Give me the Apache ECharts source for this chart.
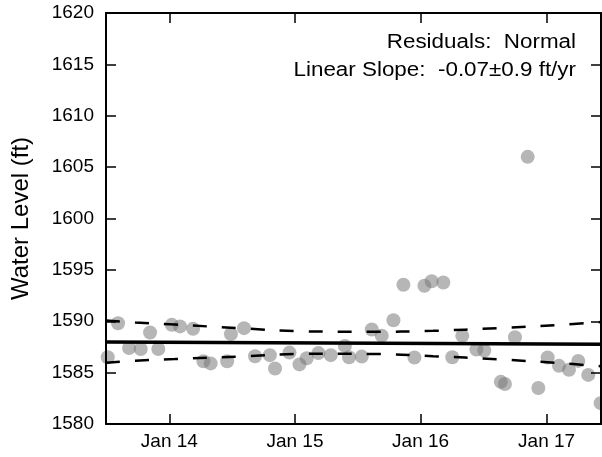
<!DOCTYPE html>
<html>
<head>
<meta charset="utf-8">
<script src="https://cdn.jsdelivr.net/npm/echarts@6/dist/echarts.min.js"></script>
<style>
html,body{margin:0;padding:0;background:#fff;}
#chart{width:602px;height:457px;}
</style>
</head>
<body>
<div id="chart"></div>
<script>
// ---- data ----
const dates = [
  '2013-07-06','2013-08-05','2013-09-06','2013-10-10','2013-11-06','2013-11-30',
  '2014-01-08','2014-02-01','2014-03-11','2014-04-10','2014-05-01','2014-06-18',
  '2014-06-29','2014-08-06','2014-09-07','2014-10-20','2014-11-04','2014-12-16',
  '2015-01-14','2015-02-04','2015-03-10','2015-04-15','2015-05-26','2015-06-07',
  '2015-07-14','2015-08-12','2015-09-10','2015-10-14','2015-11-12','2015-12-14',
  '2016-01-12','2016-02-02','2016-03-07','2016-04-02','2016-05-01','2016-06-11',
  '2016-07-04','2016-08-21','2016-09-02','2016-10-01','2016-11-07','2016-12-08',
  '2017-01-04','2017-02-06','2017-03-07','2017-04-03','2017-05-02','2017-06-07'
];
const levels = [
  1586.5, 1589.8, 1587.4, 1587.3, 1588.9, 1587.3,
  1589.65, 1589.5, 1589.26, 1586.1, 1585.9, 1586.1,
  1588.75, 1589.33, 1586.6, 1586.7, 1585.4, 1586.95,
  1585.8, 1586.4, 1586.9, 1586.7, 1587.6, 1586.5,
  1586.56, 1589.2, 1588.6, 1590.1, 1593.55, 1586.47,
  1593.45, 1593.9, 1593.77, 1586.5, 1588.58, 1587.25,
  1587.15, 1584.1, 1583.9, 1588.45, 1606.0, 1583.5,
  1586.47, 1585.66, 1585.27, 1586.14, 1584.78, 1582.03
];
const fitDates = ['2013-07-01', '2017-06-08'];
const fitLevels = [1587.98, 1587.77];
const bandDates = ['2013-07-01','2013-09-24','2014-01-17','2014-07-25','2015-01-30','2015-08-07','2016-02-06','2016-08-10','2017-02-09','2017-06-08'];
const upperLevels = [1590.08, 1589.87, 1589.68, 1589.32, 1589.02, 1588.97, 1589.07, 1589.33, 1589.65, 1589.92];
const lowerLevels = [1585.96, 1586.16, 1586.32, 1586.57, 1586.83, 1586.82, 1586.6, 1586.3, 1585.92, 1585.62];
const xTickDates = ['2014-01-01','2015-01-01','2016-01-01','2017-01-01'];
const xTickLabels = ['Jan 14','Jan 15','Jan 16','Jan 17'];
const xMin = '2013-07-01', xMax = '2017-06-08';
const yMin = 1580, yMax = 1620, yStep = 5;
const noteLines = ['Residuals:  Normal', 'Linear Slope:  -0.07\u00b10.9 ft/yr'];
const yName = 'Water Level (ft)';

// ---- build ----
const T = s => Date.parse(s);
const tickT = xTickDates.map(T);
const FONT = '"Liberation Sans", Arial, sans-serif';
const pair = (xs, ys) => xs.map((d, i) => [T(d), ys[i]]);

const axisLineStyle = {show: true, onZero: false, lineStyle: {color: '#000', width: 2}};
const tickStyle = {show: true, inside: true, length: 10, lineStyle: {color: '#000', width: 1.5}};

const chart = echarts.init(document.getElementById('chart'), null, {renderer: 'canvas'});
chart.setOption({
  animation: false,
  backgroundColor: '#fff',
  grid: {left: 106, right: 1, top: 13, bottom: 33, containLabel: false},
  xAxis: [
    {type: 'value', min: T(xMin), max: T(xMax), z: 10,
     axisLine: axisLineStyle,
     axisTick: Object.assign({customValues: tickT}, tickStyle),
     axisLabel: {customValues: tickT, formatter: v => { const i = tickT.indexOf(v); return i >= 0 ? xTickLabels[i] : ''; },
                 color: '#000', fontSize: 19, fontFamily: FONT, margin: 8},
     splitLine: {show: false}},
    {type: 'value', position: 'top', min: T(xMin), max: T(xMax), z: 10,
     axisLine: axisLineStyle,
     axisTick: Object.assign({customValues: tickT}, tickStyle),
     axisLabel: {show: false}, splitLine: {show: false}}
  ],
  yAxis: [
    {type: 'value', min: yMin, max: yMax, interval: yStep, z: 10,
     axisLine: axisLineStyle, axisTick: tickStyle,
     axisLabel: {color: '#000', fontSize: 19, fontFamily: FONT, margin: 12, formatter: v => String(v)},
     splitLine: {show: false},
     name: yName, nameLocation: 'middle', nameGap: 73, nameRotate: 90,
     nameTextStyle: {color: '#000', fontSize: 24, fontFamily: FONT}},
    {type: 'value', position: 'right', min: yMin, max: yMax, interval: yStep, z: 10,
     axisLine: axisLineStyle, axisTick: tickStyle,
     axisLabel: {show: false}, splitLine: {show: false}}
  ],
  graphic: noteLines.map((t, i) => ({
    type: 'text', x: 576, y: 42 + i * 28, scaleX: 1.12, z: 20,
    style: {text: t, x: 0, y: 0, align: 'right', verticalAlign: 'middle',
            fill: '#000', font: '20px ' + FONT}
  })),
  series: [
    {type: 'scatter', data: pair(dates, levels), symbol: 'circle', symbolSize: 14, z: 2,
     itemStyle: {color: 'rgba(120,120,120,0.68)', borderWidth: 0}},
    {type: 'line', data: pair(fitDates, fitLevels), showSymbol: false, z: 4,
     lineStyle: {color: '#000', width: 3.5}},
    {type: 'line', data: pair(bandDates, upperLevels), showSymbol: false, smooth: 0.4, z: 4,
     lineStyle: {color: '#000', width: 2.5, type: [14, 15]}},
    {type: 'line', data: pair(bandDates, lowerLevels), showSymbol: false, smooth: 0.4, z: 4,
     lineStyle: {color: '#000', width: 2.5, type: [14, 15]}}
  ]
});
</script>
</body>
</html>
